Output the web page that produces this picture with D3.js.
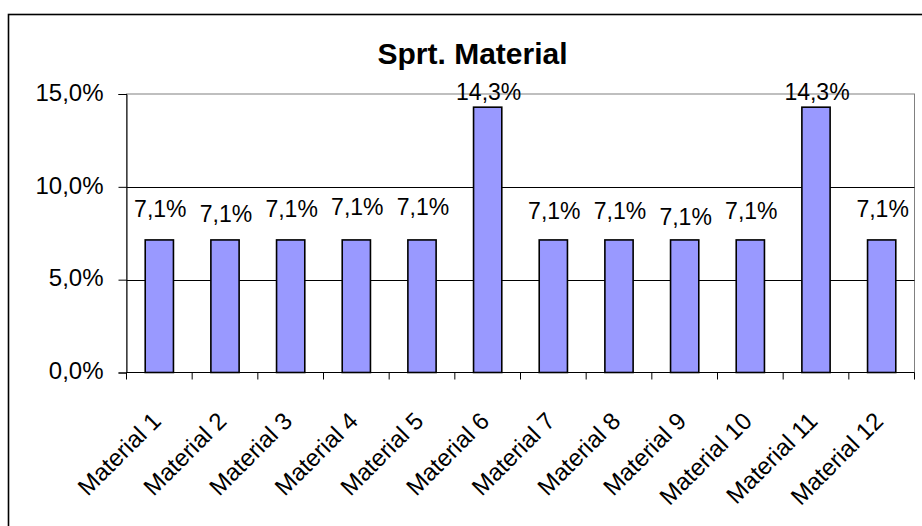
<!DOCTYPE html>
<html>
<head>
<meta charset="utf-8">
<script src="https://cdn.jsdelivr.net/npm/d3@7"></script>
<style>
  html, body { margin: 0; padding: 0; background: #fff; }
  svg { display: block; font-family: Arial, "Liberation Sans", sans-serif; }
</style>
</head>
<body>
<svg id="chart" width="922" height="526"></svg>
<script>
// Share of each material (percent)
const categories = ["Material 1", "Material 2", "Material 3", "Material 4", "Material 5", "Material 6",
                    "Material 7", "Material 8", "Material 9", "Material 10", "Material 11", "Material 12"];
const shares = [7.14, 7.14, 7.14, 7.14, 7.14, 14.29, 7.14, 7.14, 7.14, 7.14, 14.29, 7.14];
const yTicks = [0, 5, 10, 15];
const title = "Sprt. Material";

const fmt = v => d3.format(".1f")(v).replace(".", ",") + "%";

const svg = d3.select("#chart");

// outer chart frame (runs past the right and bottom edges)
svg.append("rect")
  .attr("x", 8.5).attr("y", 14.5)
  .attr("width", 1000).attr("height", 1000)
  .attr("fill", "none").attr("stroke", "#000").attr("stroke-width", 1.6);

const plot = { left: 126.5, right: 914.5, top: 94, bottom: 372.5 };

const x = d3.scaleBand().domain(categories).range([plot.left, plot.right]).paddingInner(0.57).paddingOuter(0.285);
const y = d3.scaleLinear().domain([0, 15]).range([plot.bottom, plot.top]);

// plot area border (grey)
svg.append("rect")
  .attr("x", plot.left).attr("y", plot.top)
  .attr("width", plot.right - plot.left).attr("height", plot.bottom - plot.top)
  .attr("fill", "none").attr("stroke", "#808080").attr("stroke-width", 1);

// gridlines
svg.append("g").selectAll("line")
  .data(yTicks.filter(t => t > 0 && t < 15))
  .join("line")
  .attr("x1", plot.left).attr("x2", plot.right)
  .attr("y1", d => Math.round(y(d)) + 0.5).attr("y2", d => Math.round(y(d)) + 0.5)
  .attr("stroke", "#000").attr("stroke-width", 1);

// y axis
const yAxis = d3.axisLeft(y).tickValues(yTicks).tickSize(8).tickPadding(15).tickFormat(fmt);
const gy = svg.append("g").attr("transform", `translate(${plot.left},0)`).call(yAxis);
gy.select(".domain").attr("stroke", "#000");
gy.selectAll(".tick line").attr("stroke", "#000");
gy.selectAll(".tick text")
  .attr("font-size", 24).attr("fill", "#000")
  .attr("font-family", 'Arial, "Liberation Sans", sans-serif')
  .attr("dy", "0.26em");

// x axis: ticks at band boundaries
const gx = svg.append("g").attr("transform", `translate(0,${plot.bottom})`);
gx.append("line").attr("x1", plot.left).attr("x2", plot.right).attr("y1", 0).attr("y2", 0).attr("stroke", "#000");
const step = x.step();
gx.selectAll("line.tk")
  .data(d3.range(categories.length + 1))
  .join("line").attr("class", "tk")
  .attr("x1", i => plot.left + i * step).attr("x2", i => plot.left + i * step)
  .attr("y1", 0).attr("y2", 7).attr("stroke", "#000");

gx.selectAll("text")
  .data(categories)
  .join("text")
  .attr("transform", d => `translate(${x(d) + x.bandwidth() / 2 + 3},${50}) rotate(-45)`)
  .attr("text-anchor", "end")
  .attr("font-size", 24)
  .attr("fill", "#000")
  .text(d => d);

// bars
svg.append("g").selectAll("rect")
  .data(shares)
  .join("rect")
  .attr("x", (d, i) => x(categories[i]))
  .attr("y", d => y(d))
  .attr("width", x.bandwidth())
  .attr("height", d => y(0) - y(d))
  .attr("fill", "#9999FF")
  .attr("stroke", "#000")
  .attr("stroke-width", 1.6);

// value labels, lifted above each bar
const labelLift = [23, 17.5, 23, 25, 25, 7, 21, 21, 15, 21, 7, 23];
svg.append("g").selectAll("text")
  .data(shares)
  .join("text")
  .attr("x", (d, i) => x(categories[i]) + x.bandwidth() / 2 + 1)
  .attr("y", (d, i) => y(d) - labelLift[i])
  .attr("text-anchor", "middle")
  .attr("font-size", 23)
  .attr("fill", "#000")
  .text(d => fmt(d));

// title
svg.append("text")
  .attr("x", 472.5).attr("y", 64)
  .attr("text-anchor", "middle")
  .attr("font-size", 30).attr("font-weight", "bold")
  .attr("fill", "#000")
  .text(title);
</script>
</body>
</html>
